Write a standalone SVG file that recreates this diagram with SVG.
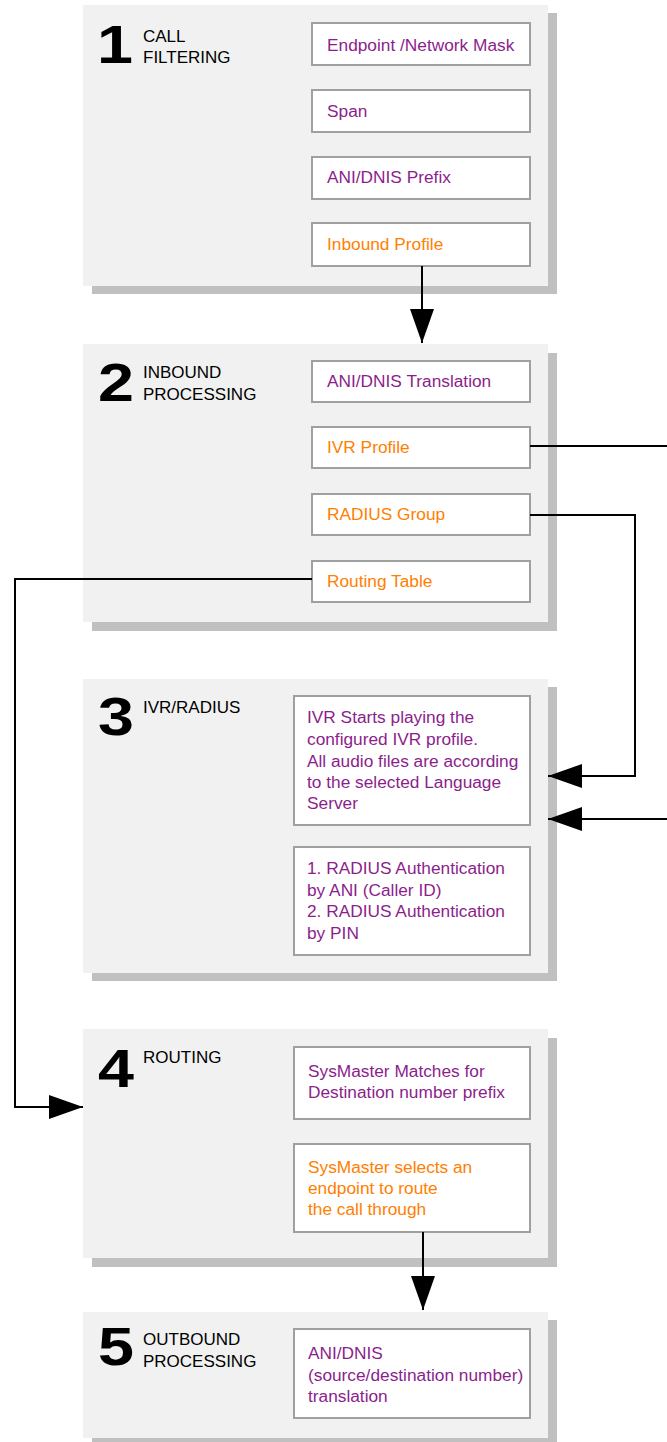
<svg xmlns="http://www.w3.org/2000/svg" width="667" height="1442" viewBox="0 0 667 1442">
<defs>
<marker id="ah" markerUnits="userSpaceOnUse" markerWidth="34" markerHeight="24" refX="34" refY="12" orient="auto" viewBox="0 0 34 24">
<path d="M0,0 L34,12 L0,24 Z" fill="#000"/>
</marker>
</defs>
<style>
.shadow{fill:#c0c0c0}
.panel{fill:#f1f1f1}
.box{fill:#fff;stroke:#a0a0a0;stroke-width:2}
.num{font-family:"Liberation Sans",Arial,sans-serif;font-weight:bold;font-size:53px;fill:#000;text-anchor:middle}
.ttl{font-family:"Liberation Sans",Arial,sans-serif;font-size:17px;fill:#000}
.t{font-family:"Liberation Sans",Arial,sans-serif;font-size:17.3px}
.p{fill:#8c1e8c}
.o{fill:#ff8000}
.conn{fill:none;stroke:#000;stroke-width:2}
</style>
<rect width="667" height="1442" fill="#fff"/>

<g id="panel1">
<rect class="shadow" x="92" y="13" width="465" height="281"/>
<rect class="panel" x="83" y="5" width="465" height="281"/>
<text class="num" transform="translate(115,63) scale(1.22,1)">1</text>
<text class="ttl" x="143" y="42">CALL</text>
<text class="ttl" x="143" y="63">FILTERING</text>
<g id="endpoint"><rect class="box" x="312" y="23" width="218" height="42"/><text class="t p" x="327" y="51">Endpoint /Network Mask</text></g>
<g id="span"><rect class="box" x="312" y="90" width="218" height="42"/><text class="t p" x="327" y="117">Span</text></g>
<g id="prefix"><rect class="box" x="312" y="157" width="218" height="42"/><text class="t p" x="327" y="183">ANI/DNIS Prefix</text></g>
<g id="inbound-profile"><rect class="box" x="312" y="223" width="218" height="43"/><text class="t o" x="327" y="250">Inbound Profile</text></g>
</g>

<g id="panel2">
<rect class="shadow" x="92" y="353" width="465" height="278"/>
<rect class="panel" x="83" y="344" width="465" height="278"/>
<text class="num" transform="translate(116,401) scale(1.22,1)">2</text>
<text class="ttl" x="143" y="378">INBOUND</text>
<text class="ttl" x="143" y="400">PROCESSING</text>
<g id="translation"><rect class="box" x="312" y="361" width="218" height="41"/><text class="t p" x="327" y="387">ANI/DNIS Translation</text></g>
<g id="ivr-profile"><rect class="box" x="312" y="427" width="218" height="41"/><text class="t o" x="327" y="453">IVR Profile</text></g>
<g id="radius-group"><rect class="box" x="312" y="494" width="218" height="41"/><text class="t o" x="327" y="520">RADIUS Group</text></g>
<g id="routing-table"><rect class="box" x="312" y="561" width="218" height="41"/><text class="t o" x="327" y="587">Routing Table</text></g>
</g>

<g id="panel3">
<rect class="shadow" x="92" y="687" width="465" height="294"/>
<rect class="panel" x="83" y="679" width="465" height="294"/>
<text class="num" transform="translate(116,735) scale(1.22,1)">3</text>
<text class="ttl" x="143" y="713">IVR/RADIUS</text>
<g id="ivr-play"><rect class="box" x="294" y="696" width="236" height="129"/>
<text class="t p"><tspan x="307" y="723">IVR Starts playing the</tspan><tspan x="307" y="745">configured IVR profile.</tspan><tspan x="307" y="767">All audio files are according</tspan><tspan x="307" y="788">to the selected Language</tspan><tspan x="307" y="809">Server</tspan></text></g>
<g id="radius-auth"><rect class="box" x="294" y="847" width="236" height="108"/>
<text class="t p"><tspan x="307" y="874">1. RADIUS Authentication</tspan><tspan x="307" y="896">by ANI (Caller ID)</tspan><tspan x="307" y="917">2. RADIUS Authentication</tspan><tspan x="307" y="939">by PIN</tspan></text></g>
</g>

<g id="panel4">
<rect class="shadow" x="92" y="1038" width="465" height="229"/>
<rect class="panel" x="83" y="1029" width="465" height="229"/>
<text class="num" transform="translate(116,1087) scale(1.22,1)">4</text>
<text class="ttl" x="143" y="1063">ROUTING</text>
<g id="matches"><rect class="box" x="294" y="1047" width="236" height="72"/>
<text class="t p"><tspan x="308" y="1077">SysMaster Matches for</tspan><tspan x="308" y="1098">Destination number prefix</tspan></text></g>
<g id="selects"><rect class="box" x="294" y="1144" width="236" height="88"/>
<text class="t o"><tspan x="308" y="1173">SysMaster selects an</tspan><tspan x="308" y="1194">endpoint to route</tspan><tspan x="308" y="1215">the call through</tspan></text></g>
</g>

<g id="panel5">
<rect class="shadow" x="92" y="1320" width="465" height="130"/>
<rect class="panel" x="83" y="1312" width="465" height="126"/>
<text class="num" transform="translate(116,1365) scale(1.22,1)">5</text>
<text class="ttl" x="143" y="1345">OUTBOUND</text>
<text class="ttl" x="143" y="1367">PROCESSING</text>
<g id="outbound-translation"><rect class="box" x="294" y="1329" width="236" height="89"/>
<text class="t p"><tspan x="308" y="1359">ANI/DNIS</tspan><tspan x="308" y="1381">(source/destination number)</tspan><tspan x="308" y="1402">translation</tspan></text></g>
</g>

<g id="connectors">
<path class="conn" d="M422,266 V343" marker-end="url(#ah)"/>
<path class="conn" d="M530,446 H672 V819 H548" marker-end="url(#ah)"/>
<path class="conn" d="M530,515 H635 V776 H548" marker-end="url(#ah)"/>
<path class="conn" d="M312,579 H15 V1107 H83" marker-end="url(#ah)"/>
<path class="conn" d="M423,1232 V1310" marker-end="url(#ah)"/>
</g>
</svg>
